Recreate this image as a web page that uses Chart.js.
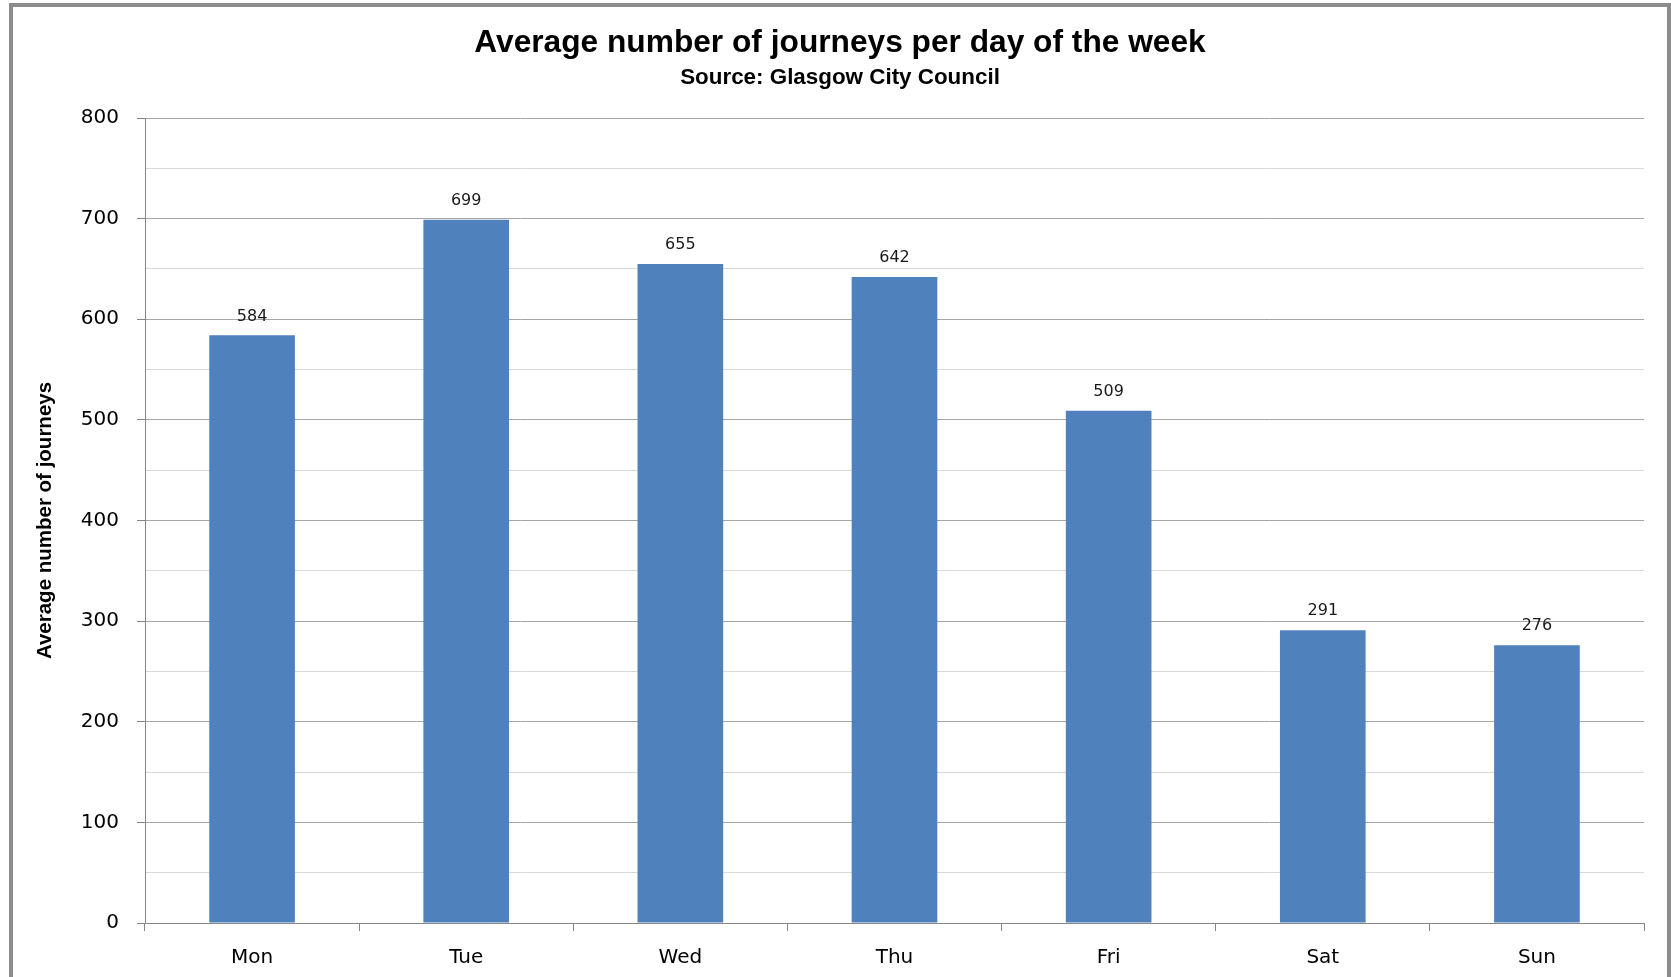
<!DOCTYPE html>
<html>
<head>
<meta charset="utf-8">
<title>Average number of journeys per day of the week</title>
<script src="https://cdn.jsdelivr.net/npm/chart.js@4/dist/chart.umd.min.js"></script>
<style>
    html, body {
        margin: 0;
        padding: 0;
        background: #ffffff;
    }

    #wrap {
        position: relative;
        width: 1671px;
        height: 977px;
    }

    #frame {
        position: absolute;
        left: 9px;
        top: 3px;
        right: 0;
        bottom: -10px;
        border: 4px solid #8c8c8c;
        pointer-events: none;
    }
</style>
</head>
<body>
<div id="wrap">
    <canvas id="journeyChart" width="1671" height="977"></canvas>
    <div id="frame"></div>
</div>

<script>
    /*
     * Data
     */

    const days = [
        "Mon", "Tue", "Wed", "Thu", "Fri", "Sat", "Sun"
    ];

    const journeys = [
        584, 699, 655, 642, 509, 291, 276
    ];

    const yTicks = [
        0, 100, 200, 300, 400, 500, 600, 700, 800
    ];


    /*
     * Value labels above each bar
     */

    const barValueLabels = {

        id: "barValueLabels",

        afterDatasetsDraw(chart) {

            const ctx = chart.ctx;
            const meta = chart.getDatasetMeta(0);

            ctx.save();
            ctx.font = "16px 'DejaVu Sans'";
            ctx.fillStyle = "#1a1a1a";
            ctx.textAlign = "center";
            ctx.textBaseline = "middle";

            meta.data.forEach((bar, i) => {
                ctx.fillText(
                    String(chart.data.datasets[0].data[i]),
                    bar.x,
                    bar.y - 19
                );
            });

            ctx.restore();
        }
    };


    /*
     * Chart
     */

    const canvas = document.getElementById("journeyChart");

    new Chart(canvas, {

        type: "bar",

        data: {
            labels: days,
            datasets: [
                {
                    label: "Average number of journeys",
                    data: journeys,
                    backgroundColor: "#4f81bd",
                    borderWidth: 0,
                    categoryPercentage: 1,
                    barPercentage: 0.4
                }
            ]
        },

        options: {

            responsive: false,
            animation: false,
            devicePixelRatio: 1,

            // left padding keeps the titles centred on the framed area
            layout: {
                padding: {
                    left: 36,
                    right: 27,
                    top: 0,
                    bottom: 0
                }
            },

            plugins: {

                legend: {
                    display: false
                },

                tooltip: {
                    enabled: false
                },

                title: {
                    display: true,
                    text: "Average number of journeys per day of the week",
                    color: "#000000",
                    font: {
                        family: "'Liberation Sans', Arial, sans-serif",
                        size: 31.7,
                        weight: "bold",
                        lineHeight: 1.2
                    },
                    padding: {
                        top: 24.5,
                        bottom: 1
                    }
                },

                subtitle: {
                    display: true,
                    text: "Source: Glasgow City Council",
                    color: "#000000",
                    font: {
                        family: "'Liberation Sans', Arial, sans-serif",
                        size: 22.4,
                        weight: "bold",
                        lineHeight: 1.2
                    },
                    padding: {
                        top: 1,
                        bottom: 26.6
                    }
                }
            },

            scales: {

                x: {
                    offset: true,
                    grid: {
                        offset: true,
                        drawOnChartArea: false,
                        drawTicks: true,
                        tickLength: 8,
                        color: "#868686"
                    },
                    border: {
                        display: true,
                        color: "#868686",
                        width: 1
                    },
                    ticks: {
                        color: "#000000",
                        padding: 15,
                        font: {
                            family: "'DejaVu Sans', Verdana, sans-serif",
                            size: 20
                        }
                    },
                    afterFit(scale) {
                        scale.height = 54;
                    }
                },

                y: {
                    min: 0,
                    max: 800,
                    afterBuildTicks(scale) {
                        const all = [];
                        yTicks.forEach((v, i) => {
                            all.push({ value: v });
                            if (i < yTicks.length - 1) {
                                all.push({ value: v + 50 });
                            }
                        });
                        scale.ticks = all;
                    },
                    grid: {
                        drawTicks: true,
                        tickLength: 8,
                        color: ctx =>
                            yTicks.includes(ctx.tick.value)
                                ? "#a6a6a6"
                                : "#d9d9d9",
                        tickColor: ctx =>
                            yTicks.includes(ctx.tick.value)
                                ? "#868686"
                                : "rgba(0,0,0,0)"
                    },
                    border: {
                        display: true,
                        color: "#868686",
                        width: 1
                    },
                    ticks: {
                        color: "#000000",
                        padding: 18,
                        font: {
                            family: "'DejaVu Sans', Verdana, sans-serif",
                            size: 20
                        },
                        callback: value =>
                            yTicks.includes(value) ? String(value) : ""
                    },
                    title: {
                        display: true,
                        text: "Average number of journeys",
                        color: "#000000",
                        font: {
                            family: "'Liberation Sans', Arial, sans-serif",
                            size: 20.5,
                            weight: "bold",
                            lineHeight: 1.2
                        },
                        padding: {
                            top: -3,
                            bottom: 0
                        }
                    },
                    afterFit(scale) {
                        scale.width = 109;
                    }
                }
            }
        },

        plugins: [
            barValueLabels
        ]
    });
</script>
</body>
</html>
